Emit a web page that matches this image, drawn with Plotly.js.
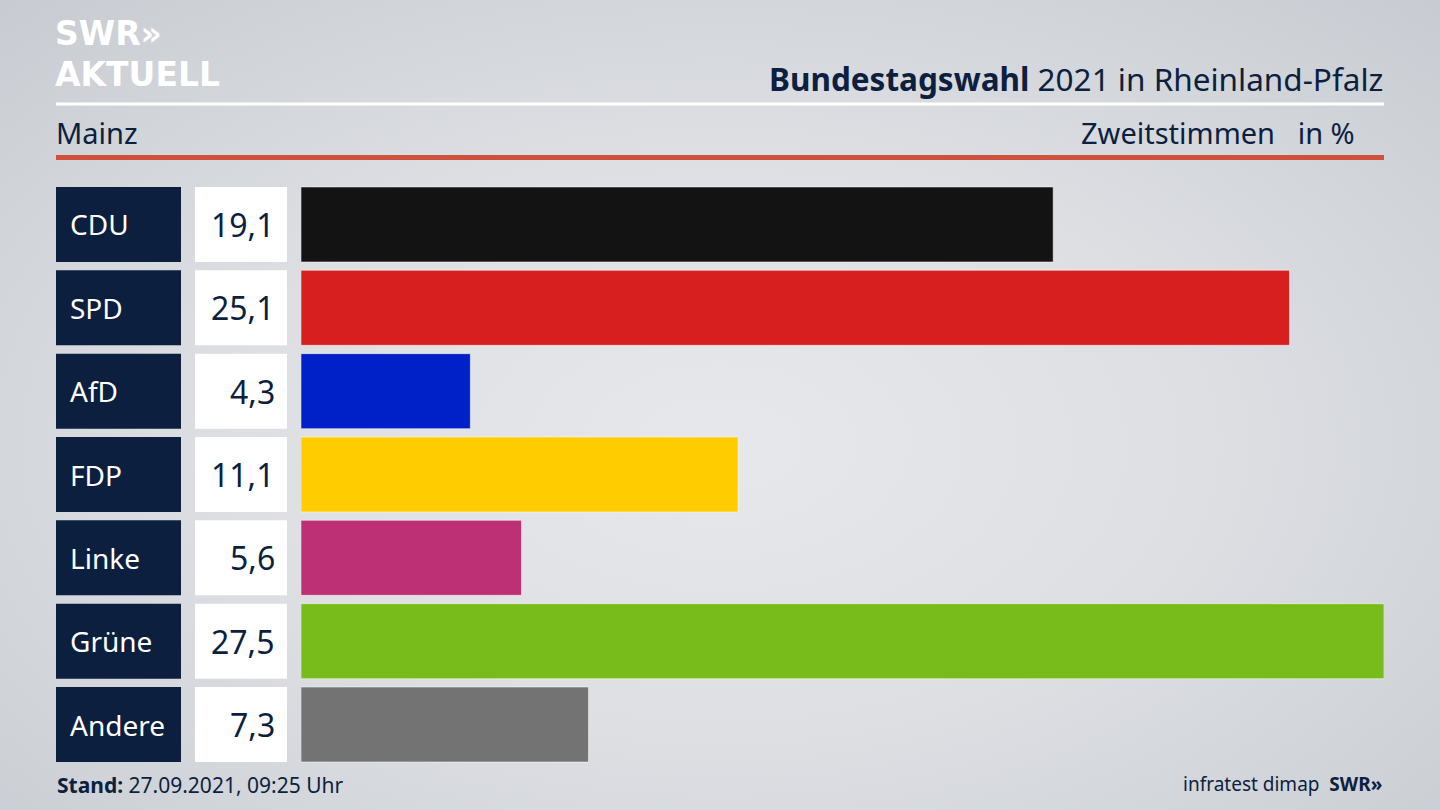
<!DOCTYPE html>
<html><head><meta charset="utf-8">
<script src="https://cdn.plot.ly/plotly-3.0.1.min.js"></script>
<style>
html,body{margin:0;padding:0;width:1440px;height:810px;overflow:hidden;
background:radial-gradient(ellipse 75% 80% at 50% 55%, #e7e8eb 0%, #dddfe3 45%, #c6cad0 100%);}
#chart{width:1440px;height:810px;}
</style></head><body>
<div id="chart"></div>
<script>
const parties = ['CDU','SPD','AfD','FDP','Linke','Grüne','Andere'];
const values = [19.1, 25.1, 4.3, 11.1, 5.6, 27.5, 7.3];
const colors = ['#131313','#d71f1f','#0021c8','#ffcc00','#be3075','#78bc1b','#737373'];

const navy = '#0c1f3f';
const F = '"Noto Sans", "Open Sans", sans-serif';
const LOGO = '"DejaVu Sans", sans-serif';
const W = 1440, H = 810;
const px = v => v / W;
const py = v => 1 - v / H;

const yaxisDomain = [py(766.2), py(182.8)];
const ones = parties.map(() => 1);
const fmt = v => v.toFixed(1).replace('.', ',');

const traces = [
  {type:'bar', orientation:'h', x:ones, y:parties, xaxis:'x', yaxis:'y',
   marker:{color:navy}, hoverinfo:'skip', showlegend:false},
  {type:'bar', orientation:'h', x:ones, y:parties, xaxis:'x2', yaxis:'y',
   marker:{color:'#ffffff'}, hoverinfo:'skip', showlegend:false},
  {type:'bar', orientation:'h', x:values, y:parties, xaxis:'x3', yaxis:'y',
   marker:{color:colors, line:{color:'rgba(255,255,255,0.5)', width:1}}, hoverinfo:'skip', showlegend:false}
];

const annotations = [];
parties.forEach((p, i) => {
  annotations.push({xref:'x', yref:'y', x:0, y:p, text:p, showarrow:false, xanchor:'left', xshift:12,
    font:{family:F, size:28, color:'#ffffff'}});
  annotations.push({xref:'x2', yref:'y', x:1, y:p, text:fmt(values[i]), showarrow:false, xanchor:'right', xshift:-10,
    font:{family:F, size:32, color:navy}});
});

annotations.push(
  {xref:'paper', yref:'paper', x:px(1385), y:py(78), xanchor:'right', yanchor:'middle', showarrow:false,
   text:'<b>Bundestagswahl</b> 2021 in Rheinland-Pfalz', font:{family:F, size:31.5, color:navy}},
  {xref:'paper', yref:'paper', x:px(54), y:py(132), xanchor:'left', yanchor:'middle', showarrow:false,
   text:'Mainz', font:{family:F, size:29, color:navy}},
  {xref:'paper', yref:'paper', x:px(1357), y:py(132), xanchor:'right', yanchor:'middle', showarrow:false,
   text:'Zweitstimmen&nbsp;&nbsp;&nbsp;in %', font:{family:F, size:29, color:navy}},
  {xref:'paper', yref:'paper', x:px(53), y:py(33), xanchor:'left', yanchor:'middle', showarrow:false,
   text:'<b>SWR»</b>', font:{family:LOGO, size:33, color:'#ffffff'}},
  {xref:'paper', yref:'paper', x:px(53), y:py(75), xanchor:'left', yanchor:'middle', showarrow:false,
   text:'<b>AKTUELL</b>', font:{family:LOGO, size:33, color:'#ffffff'}},
  {xref:'paper', yref:'paper', x:px(55), y:py(785), xanchor:'left', yanchor:'middle', showarrow:false,
   text:'<b>Stand:</b> 27.09.2021, 09:25 Uhr', font:{family:F, size:21, color:navy}},
  {xref:'paper', yref:'paper', x:px(1384), y:py(784), xanchor:'right', yanchor:'middle', showarrow:false,
   text:'infratest dimap&nbsp;&nbsp;<b>SWR»</b>', font:{family:F, size:19, color:navy}}
);

const axisBase = {showgrid:false, zeroline:false, showticklabels:false, ticks:'', showline:false, fixedrange:true};

const layout = {
  width:W, height:H,
  margin:{l:0, r:0, t:0, b:0},
  paper_bgcolor:'rgba(0,0,0,0)', plot_bgcolor:'rgba(0,0,0,0)',
  bargap:0.1,
  xaxis: Object.assign({}, axisBase, {domain:[px(56), px(181)], range:[0,1]}),
  xaxis2: Object.assign({}, axisBase, {domain:[px(195), px(287)], range:[0,1], anchor:'y'}),
  xaxis3: Object.assign({}, axisBase, {domain:[px(301), px(1384)], range:[0,27.5], anchor:'y'}),
  yaxis: Object.assign({}, axisBase, {domain:yaxisDomain, autorange:'reversed', type:'category'}),
  shapes:[
    {type:'line', xref:'paper', yref:'paper', x0:px(56), x1:px(1384), y0:py(104), y1:py(104),
     line:{color:'#ffffff', width:3}},
    {type:'line', xref:'paper', yref:'paper', x0:px(56), x1:px(1384), y0:py(157.5), y1:py(157.5),
     line:{color:'#cf503d', width:5}}
  ],
  annotations:annotations,
  showlegend:false
};

Plotly.newPlot('chart', traces, layout, {displayModeBar:false, staticPlot:true});
</script>
</body></html>
